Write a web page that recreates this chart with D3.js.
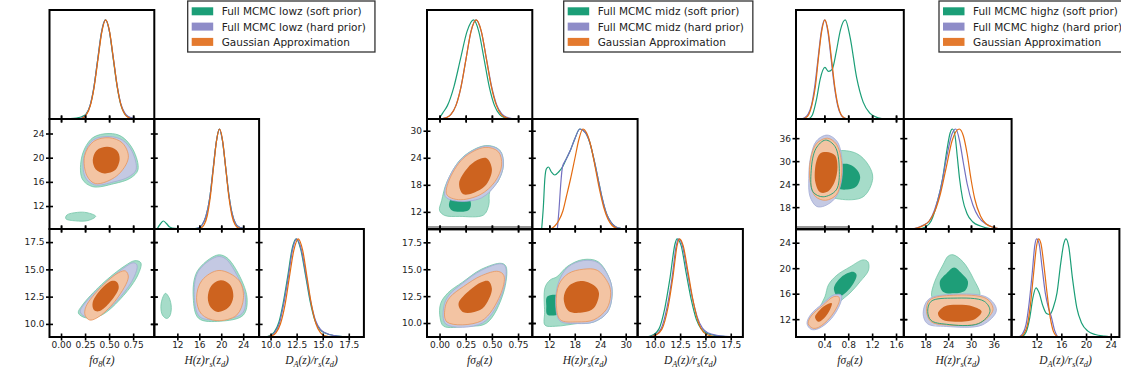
<!doctype html>
<html>
<head>
<meta charset="utf-8">
<title>Triangle plots lowz / midz / highz</title>
<script src="https://cdnjs.cloudflare.com/ajax/libs/d3/7.8.5/d3.min.js"></script>
<style>
  body { margin: 0; background: #fff; }
  svg { display: block; }
</style>
</head>
<body>
<div id="chart"></div>
<script>
// ---- data ----
const bins = ['lowz', 'midz', 'highz'];
const seriesLabels = ['Full MCMC {z} (soft prior)', 'Full MCMC {z} (hard prior)', 'Gaussian Approximation'];

// axis ticks per bin: f sigma8, H rs, DA/rs
const fTicks = [[0, 0.25, 0.5, 0.75], [0, 0.25, 0.5, 0.75], [0.4, 0.8, 1.2, 1.6]];
const hTicks = [[12, 16, 20, 24], [12, 18, 24, 30], [18, 24, 30, 36]];
const daTicks = [[10, 12.5, 15, 17.5], [10, 12.5, 15, 17.5], [12, 16, 20, 24]];
const fFormat = ['.2f', '.2f', '.1f'];
const hFormat = ['d', 'd', 'd'];
const daFormat = ['.1f', '.1f', 'd'];

// axis limits
const fRange = [[-0.12, 0.97], [-0.12, 0.886], [-0.074, 1.73]];
const hRangeX = [[7.8, 26.9], [8.0, 32.8], [12.3, 40.7]];
const hRangeY = [[8.2, 26.4], [8.2, 32.6], [12.3, 41.0]];
const daRangeX = [[8.9, 18.95], [8.3, 18.7], [7.95, 25.4]];
const daRangeY = [[8.8, 18.7], [8.7, 18.74], [9.2, 26.15]];

// 1D marginals: [soft, hard, gauss], points [x, p/pmax]
const lowzF1D = [
  [[-0.02,0],[0.08,0.003],[0.16,0.01],[0.22,0.025],[0.26,0.05],[0.30,0.13],[0.34,0.31],[0.38,0.59],[0.42,0.87],[0.46,1],[0.50,0.9],[0.54,0.63],[0.58,0.35],[0.62,0.15],[0.66,0.055],[0.70,0.02],[0.75,0.006],[0.82,0]],
  [[0.16,0],[0.22,0.012],[0.26,0.042],[0.30,0.13],[0.34,0.31],[0.38,0.59],[0.42,0.87],[0.462,1],[0.50,0.9],[0.54,0.64],[0.58,0.36],[0.62,0.16],[0.66,0.065],[0.70,0.025],[0.75,0.008],[0.82,0]],
  [[0.19,0],[0.23,0.013],[0.265,0.045],[0.305,0.135],[0.345,0.325],[0.385,0.607],[0.425,0.882],[0.465,1],[0.505,0.882],[0.545,0.607],[0.585,0.325],[0.625,0.135],[0.665,0.045],[0.705,0.013],[0.75,0]]
];
const lowzH1D = [
  [[8.3,0],[8.9,0.05],[9.45,0.08],[10.0,0.055],[10.6,0.02],[11.5,0.006],[13,0.003],[14.5,0.004],[15.8,0.01],[16.5,0.04],[17.2,0.125],[17.9,0.31],[18.5,0.59],[19.1,0.87],[19.65,1],[20.2,0.89],[20.8,0.62],[21.4,0.34],[22.0,0.15],[22.6,0.055],[23.3,0.018],[24.2,0.005],[25.2,0]],
  [[15.0,0],[15.8,0.01],[16.5,0.04],[17.2,0.125],[17.9,0.31],[18.5,0.59],[19.1,0.87],[19.65,1],[20.2,0.89],[20.8,0.62],[21.4,0.34],[22.0,0.15],[22.6,0.055],[23.3,0.018],[24.2,0.005],[25.2,0]],
  [[15.6,0],[16.34,0.011],[16.9,0.044],[17.46,0.135],[18.02,0.325],[18.58,0.607],[19.14,0.882],[19.7,1],[20.26,0.882],[20.82,0.607],[21.38,0.325],[21.94,0.135],[22.5,0.044],[23.06,0.011],[23.8,0]]
];
const lowzDA1D = [
  [[9.4,0],[9.9,0.013],[10.35,0.05],[10.8,0.15],[11.2,0.34],[11.65,0.62],[12.05,0.89],[12.45,1],[12.9,0.89],[13.35,0.63],[13.8,0.36],[14.25,0.17],[14.75,0.075],[15.35,0.035],[16.1,0.015],[17.0,0.004],[17.6,0]],
  [[9.5,0],[10.0,0.012],[10.4,0.045],[10.85,0.14],[11.25,0.33],[11.7,0.61],[12.1,0.885],[12.5,1],[12.95,0.89],[13.4,0.63],[13.85,0.36],[14.3,0.17],[14.8,0.075],[15.4,0.035],[16.1,0.015],[17.0,0.004],[17.6,0]],
  [[9.6,0],[10.1,0.011],[10.53,0.044],[10.95,0.135],[11.38,0.325],[11.8,0.607],[12.23,0.882],[12.65,1],[13.08,0.882],[13.5,0.607],[13.93,0.325],[14.35,0.135],[14.78,0.044],[15.2,0.011],[15.8,0]]
];
const midzF1D = [
  [[0.0,0.01],[0.03,0.06],[0.075,0.135],[0.137,0.325],[0.2,0.607],[0.262,0.882],[0.325,1],[0.375,0.882],[0.425,0.607],[0.475,0.325],[0.525,0.135],[0.575,0.044],[0.625,0.011],[0.68,0]],
  [[0.01,0],[0.06,0.011],[0.107,0.044],[0.156,0.135],[0.205,0.325],[0.253,0.607],[0.30,0.882],[0.348,1],[0.398,0.885],[0.447,0.615],[0.496,0.335],[0.545,0.145],[0.594,0.052],[0.645,0.016],[0.70,0.004],[0.75,0]],
  [[0.01,0],[0.059,0.011],[0.107,0.044],[0.156,0.135],[0.205,0.325],[0.253,0.607],[0.30,0.882],[0.35,1],[0.40,0.882],[0.447,0.607],[0.495,0.325],[0.544,0.135],[0.59,0.044],[0.64,0.011],[0.69,0]]
];
const midzH1D = [
  [[10.2,0],[10.6,0.22],[10.95,0.5],[11.3,0.6],[11.8,0.62],[12.5,0.57],[13.3,0.54],[14.2,0.57],[15.1,0.62],[16,0.7],[17,0.79],[18,0.9],[19.2,1],[20.4,0.97],[21.5,0.87],[22.5,0.7],[23.5,0.5],[24.5,0.3],[25.5,0.15],[26.5,0.07],[27.5,0.025],[28.5,0.008],[29.5,0]],
  [[13.9,0],[14.3,0.2],[14.7,0.45],[15.1,0.62],[16,0.7],[17,0.79],[18,0.9],[19.2,1],[20.4,0.97],[21.5,0.87],[22.5,0.7],[23.5,0.5],[24.5,0.3],[25.5,0.15],[26.5,0.07],[27.5,0.025],[28.5,0.008],[29.5,0]],
  [[12.3,0],[13.3,0.03],[14.3,0.09],[15.2,0.18],[16.0,0.32],[17.0,0.5],[18.0,0.7],[19.0,0.9],[19.9,1],[20.8,0.96],[21.8,0.83],[22.8,0.62],[23.8,0.4],[24.8,0.22],[25.8,0.1],[26.8,0.035],[27.8,0.008],[28.5,0]]
];
const midzDA1D = [
  [[9.2,0],[9.8,0.02],[10.4,0.08],[11.0,0.3],[11.5,0.6],[12.0,0.95],[12.2,1],[12.6,0.93],[13.1,0.65],[13.6,0.38],[14.1,0.18],[14.6,0.08],[15.2,0.035],[16,0.015],[17,0.005],[17.8,0]],
  [[9.4,0],[10.0,0.02],[10.6,0.08],[11.2,0.3],[11.7,0.6],[12.1,0.92],[12.35,1],[12.7,0.94],[13.2,0.67],[13.7,0.4],[14.2,0.2],[14.7,0.09],[15.3,0.04],[16.1,0.018],[17,0.006],[17.8,0]],
  [[9.5,0],[10.1,0.02],[10.7,0.08],[11.3,0.3],[11.8,0.62],[12.2,0.93],[12.43,1],[12.8,0.93],[13.3,0.65],[13.8,0.36],[14.3,0.15],[14.8,0.05],[15.4,0.015],[16.2,0]]
];
const highzF1D = [
  [[0.14,0],[0.2,0.04],[0.27,0.2],[0.33,0.4],[0.41,0.52],[0.47,0.48],[0.53,0.5],[0.6,0.68],[0.67,0.9],[0.75,1],[0.83,0.83],[0.94,0.42],[1.05,0.17],[1.16,0.06],[1.3,0.012],[1.45,0]],
  [[0.02,0],[0.07,0.012],[0.13,0.05],[0.185,0.14],[0.24,0.33],[0.295,0.61],[0.35,0.885],[0.405,1],[0.46,0.88],[0.515,0.6],[0.57,0.32],[0.625,0.13],[0.68,0.04],[0.735,0.01],[0.79,0]],
  [[0.03,0],[0.08,0.01],[0.14,0.045],[0.19,0.135],[0.25,0.325],[0.30,0.607],[0.355,0.882],[0.41,1],[0.465,0.882],[0.52,0.607],[0.575,0.325],[0.63,0.135],[0.68,0.045],[0.74,0.01],[0.79,0]]
];
const highzH1D = [
  [[16.5,0],[18,0.02],[19.5,0.08],[21,0.25],[22.5,0.5],[23.7,0.8],[24.5,0.96],[25.1,1],[25.8,0.93],[26.4,0.72],[27.0,0.5],[27.8,0.3],[29,0.15],[30.5,0.07],[32.5,0.03],[35,0.005],[36.5,0]],
  [[14.5,0],[16,0.015],[17.5,0.04],[19,0.08],[20.5,0.2],[22,0.4],[23.5,0.7],[25,0.95],[26,1],[27,0.88],[28,0.66],[29,0.45],[30.5,0.24],[32,0.12],[34,0.05],[36,0.015],[38,0]],
  [[14.5,0],[16,0.012],[17.5,0.035],[19,0.08],[20.5,0.18],[22,0.36],[23.5,0.62],[25,0.88],[26.9,1],[28,0.93],[29,0.75],[30,0.5],[31,0.3],[32.5,0.13],[34,0.05],[36,0.015],[38,0]]
];
const highzDA1D = [
  [[9.6,0],[10.3,0.05],[10.9,0.2],[11.4,0.4],[11.9,0.5],[12.4,0.45],[13.0,0.32],[13.6,0.24],[14.15,0.23],[14.7,0.3],[15.3,0.45],[15.9,0.75],[16.4,0.95],[16.75,1],[17.2,0.92],[17.8,0.6],[18.5,0.3],[19.3,0.14],[20.3,0.06],[21.5,0.025],[23,0.008],[24,0]],
  [[9.1,0],[9.7,0.03],[10.3,0.13],[10.8,0.35],[11.3,0.66],[11.7,0.93],[12.0,1],[12.4,0.95],[12.9,0.7],[13.4,0.45],[13.9,0.3],[14.4,0.2],[14.9,0.07],[15.4,0]],
  [[9.3,0],[9.9,0.03],[10.5,0.12],[11.0,0.33],[11.5,0.64],[12.0,0.93],[12.3,1],[12.7,0.95],[13.2,0.72],[13.7,0.44],[14.2,0.2],[14.7,0.06],[15.2,0.01],[15.6,0]]
];

// 2D contours: [series, level (0 = 95%, 1 = 68%), outline points, outline drawn on top]
const lowzFH = [
  [0, 0, [[0.80,18.0],[0.75,21.3],[0.63,23.5],[0.50,24.0],[0.33,23.3],[0.22,20.4],[0.22,16.5],[0.33,15.2],[0.55,15.7],[0.72,16.6]]],
  [0, 0, [[0.36,10.3],[0.27,10.9],[0.17,10.95],[0.06,10.5],[0.05,9.9],[0.15,9.55],[0.28,9.6]]],
  [0, 1, [[0.61,19.8],[0.58,21.3],[0.48,21.9],[0.37,21.3],[0.32,19.6],[0.35,18.0],[0.45,17.3],[0.57,17.8]]],
  [1, 0, [[0.78,18.0],[0.74,21.0],[0.64,22.9],[0.50,23.5],[0.33,22.9],[0.24,20.3],[0.25,16.8],[0.35,15.5],[0.55,16.0],[0.70,16.8]]],
  [1, 1, [[0.61,19.8],[0.58,21.2],[0.48,21.8],[0.37,21.2],[0.33,19.6],[0.36,18.1],[0.45,17.4],[0.56,17.9]]],
  [2, 0, [[0.70,20.0],[0.64,22.4],[0.50,23.3],[0.34,22.7],[0.245,20.3],[0.27,17.0],[0.36,15.7],[0.58,17.0]]],
  [2, 1, [[0.61,19.8],[0.58,21.2],[0.48,21.8],[0.37,21.2],[0.33,19.6],[0.36,18.1],[0.45,17.4],[0.56,17.9]]]
];
const lowzFDA = [
  [0, 0, [[0.83,15.6],[0.77,15.8],[0.66,15.3],[0.42,13.6],[0.22,11.7],[0.18,11.0],[0.26,10.55],[0.42,10.8],[0.65,12.6],[0.80,14.5]]],
  [0, 1, [[0.60,13.3],[0.58,13.85],[0.53,13.95],[0.44,13.4],[0.33,12.0],[0.34,11.3],[0.39,11.15],[0.50,11.9]]],
  [1, 0, [[0.79,15.4],[0.75,15.6],[0.65,15.1],[0.44,13.6],[0.24,11.8],[0.20,11.1],[0.27,10.6],[0.40,10.8],[0.62,12.5],[0.76,14.3]]],
  [1, 1, [[0.60,13.3],[0.58,13.85],[0.53,13.95],[0.44,13.4],[0.33,12.0],[0.34,11.3],[0.39,11.15],[0.50,11.9]]],
  [2, 0, [[0.70,14.3],[0.67,14.85],[0.60,14.7],[0.42,13.4],[0.26,11.6],[0.25,10.8],[0.30,10.35],[0.40,10.7],[0.58,12.3]]],
  [2, 1, [[0.60,13.3],[0.58,13.85],[0.53,13.95],[0.44,13.4],[0.33,12.0],[0.34,11.3],[0.39,11.15],[0.50,11.9]]]
];
const lowzHDA = [
  [0, 0, [[24.7,12.4],[22.8,14.9],[20.8,16.15],[19.2,16.3],[15.6,14.8],[14.9,12.4],[15.9,10.5],[19.8,10.25],[24.0,10.8]]],
  [0, 0, [[9.85,12.8],[10.5,12.4],[10.9,11.5],[10.6,10.7],[10.06,10.5],[9.3,10.8],[9.0,11.6],[9.4,12.5]]],
  [0, 1, [[22.2,12.5],[21.6,13.6],[19.9,14.0],[18.2,13.5],[17.55,12.4],[18.1,11.5],[19.4,11.1],[21.3,11.5]]],
  [1, 0, [[24.4,12.4],[22.5,14.8],[20.7,16.0],[19.2,16.15],[15.8,14.8],[15.1,12.4],[16.1,10.65],[19.8,10.4],[23.8,10.95]]],
  [1, 1, [[22.2,12.5],[21.6,13.6],[19.9,14.0],[18.2,13.5],[17.55,12.4],[18.1,11.5],[19.4,11.1],[21.3,11.5]]],
  [2, 0, [[24.05,12.4],[23.2,14.0],[19.6,14.9],[16.5,14.0],[15.5,12.4],[16.4,10.9],[19.2,10.3],[22.8,10.8]]],
  [2, 1, [[22.2,12.5],[21.6,13.6],[19.9,14.0],[18.2,13.5],[17.55,12.4],[18.1,11.5],[19.4,11.1],[21.3,11.5]]]
];
const midzFH = [
  [0, 0, [[0.61,22.4],[0.575,25.7],[0.44,26.7],[0.22,24.1],[0.07,18.6],[0.02,14.5],[0.0,12.3],[0.05,11.2],[0.19,11.0],[0.42,11.3],[0.47,13.5],[0.48,16.5],[0.56,18.8]]],
  [0, 1, [[0.09,13.3],[0.12,12.3],[0.19,12.0],[0.28,12.4],[0.30,13.8],[0.26,16.0],[0.18,16.5],[0.11,15.0]]],
  [1, 0, [[0.61,22.4],[0.575,25.6],[0.44,26.6],[0.22,24.0],[0.07,18.5],[0.055,15.4],[0.16,14.4],[0.40,15.1],[0.55,18.5]]],
  [1, 1, [[0.45,23.9],[0.50,21.5],[0.46,18.5],[0.387,16.9],[0.228,15.9],[0.187,18.4],[0.266,21.7],[0.36,23.5]]],
  [2, 0, [[0.593,22.4],[0.561,25.35],[0.434,26.3],[0.228,23.9],[0.086,18.7],[0.07,15.8],[0.181,14.7],[0.387,15.8],[0.529,18.7]]],
  [2, 1, [[0.45,23.9],[0.50,21.5],[0.46,18.5],[0.387,16.9],[0.228,15.9],[0.187,18.4],[0.266,21.7],[0.36,23.5]]]
];
const midzFDA = [
  [0, 0, [[0.59,15.55],[0.635,15.25],[0.61,12.8],[0.45,10.0],[0.25,9.7],[0.04,9.7],[0.005,10.5],[0.01,11.8],[0.08,12.8],[0.22,13.8],[0.40,15.0]]],
  [0, 1, [[0.44,13.8],[0.48,13.1],[0.44,12.0],[0.36,11.1],[0.2,10.8],[0.13,11.5],[0.26,13.0],[0.38,13.7]]],
  [1, 0, [[0.59,15.5],[0.63,15.2],[0.60,12.8],[0.41,10.0],[0.06,9.9],[0.04,11.5],[0.09,12.6],[0.22,13.7],[0.40,14.9]]],
  [1, 1, [[0.466,13.9],[0.50,13.2],[0.46,12.0],[0.387,11.2],[0.228,11.0],[0.181,11.8],[0.29,13.07],[0.40,13.8]]],
  [2, 0, [[0.56,14.8],[0.615,14.4],[0.58,12.6],[0.40,10.2],[0.07,10.1],[0.054,11.5],[0.10,12.4],[0.23,13.4],[0.40,14.4]]],
  [2, 1, [[0.466,13.9],[0.50,13.2],[0.46,12.0],[0.387,11.2],[0.228,11.0],[0.181,11.8],[0.29,13.07],[0.40,13.8]]]
];
const midzHDA = [
  [0, 0, [[26.8,12.6],[26.3,14.0],[23.5,15.7],[20,15.9],[16.4,15.3],[13.8,14.3],[12.2,14.0],[11.0,13.3],[10.9,11.0],[11.0,9.8],[13.5,9.7],[18.6,9.95],[22.5,10.1],[25.7,11.0]]],
  [0, 1, [[11.4,12.4],[12.5,12.6],[14.5,12.5],[15.5,11.8],[15,11.0],[13,10.7],[11.5,10.8],[11.3,11.6]]],
  [1, 0, [[13.5,11.8],[14.2,13.8],[16.4,15.2],[20,15.8],[23.5,15.6],[26.3,14.0],[26.8,12.6],[25.7,11.0],[22.5,10.1],[18.6,9.95],[14.5,10.2]]],
  [1, 1, [[15.4,12.3],[16.5,13.4],[19.4,13.9],[22.5,13.5],[23.7,12.8],[22.5,11.4],[20.1,11.0],[16.6,11.1]]],
  [2, 0, [[13.66,11.8],[14.3,13.6],[16.5,14.6],[20,15.0],[23.3,14.9],[26.0,13.6],[26.45,12.6],[25.5,11.3],[22.5,10.3],[18.6,10.1],[14.6,10.3]]],
  [2, 1, [[15.4,12.3],[16.5,13.4],[19.4,13.9],[22.5,13.5],[23.7,12.8],[22.5,11.4],[20.1,11.0],[16.6,11.1]]]
];
const highzFH = [
  [0, 0, [[0.61,32.6],[0.94,32.0],[1.14,28.95],[1.21,25.5],[1.05,20.7],[0.66,20.1],[0.45,21.5],[0.45,30.5]]],
  [0, 0, [[0.42,35.5],[0.58,33.8],[0.65,28],[0.6,22.5],[0.38,20.7],[0.21,22],[0.18,27.5],[0.26,33.3]], true],
  [0, 1, [[0.62,28.8],[0.78,29.3],[0.93,28.0],[1.0,25.9],[0.93,23.3],[0.78,22.6],[0.62,23.0],[0.56,25.9]]],
  [1, 0, [[0.45,36.8],[0.62,35.0],[0.70,29.5],[0.68,24.3],[0.58,20.3],[0.40,18.3],[0.27,18.2],[0.16,20.8],[0.14,25.5],[0.17,31],[0.27,35.3]]],
  [1, 1, [[0.44,32.4],[0.58,31.5],[0.62,28.5],[0.57,24.5],[0.45,22.0],[0.33,21.9],[0.25,24.5],[0.26,29.5],[0.33,32.0]]],
  [2, 0, [[0.45,36.0],[0.6,34.5],[0.69,29.5],[0.67,24.5],[0.6,21.2],[0.42,19.8],[0.25,20.8],[0.16,25.0],[0.17,30.5],[0.27,34.6]]],
  [2, 1, [[0.44,32.4],[0.58,31.5],[0.62,28.5],[0.57,24.5],[0.45,22.0],[0.33,21.9],[0.25,24.5],[0.26,29.5],[0.33,32.0]]]
];
const highzFDA = [
  [0, 0, [[0.41,15.5],[0.47,17.4],[0.61,18.9],[0.83,20.2],[1.05,21.3],[1.13,21.0],[1.14,19.7],[1.0,17.9],[0.83,16.1],[0.66,14.75],[0.5,13.0],[0.3,11.0],[0.22,10.8],[0.2,11.8],[0.3,13.5]]],
  [0, 1, [[0.885,19.45],[0.94,18.94],[0.83,16.85],[0.634,15.5],[0.56,16.85],[0.69,18.67]]],
  [1, 0, [[0.56,15.8],[0.68,15.8],[0.68,14.8],[0.52,12.1],[0.3,10.5],[0.18,10.4],[0.11,11.3],[0.17,12.7],[0.38,14.5]]],
  [1, 1, [[0.524,14.5],[0.5,13.6],[0.4,12.2],[0.3,11.6],[0.244,12.3],[0.3,13.2],[0.42,14.2]]],
  [2, 0, [[0.55,15.5],[0.64,15.5],[0.65,14.8],[0.5,12.3],[0.3,10.7],[0.2,10.6],[0.13,11.3],[0.18,12.5],[0.38,14.2]]],
  [2, 1, [[0.524,14.5],[0.5,13.6],[0.4,12.2],[0.3,11.6],[0.244,12.3],[0.3,13.2],[0.42,14.2]]]
];
const highzHDA = [
  [0, 0, [[25.3,22.1],[27.9,21.0],[30.6,18.4],[32.3,15.8],[30,15.3],[25,15.2],[20,15.3],[19.6,15.8],[20.45,17.9],[22.6,20.5],[24,21.9]]],
  [0, 0, [[25.5,15.3],[33.5,14.8],[35,13.2],[32,11.3],[23.5,11.2],[19.5,11.8],[18.6,13.2],[19.5,14.8]], true],
  [0, 1, [[25.55,20.1],[27.5,19.2],[29.2,17.9],[28.5,16.5],[25.55,16.05],[22.6,16.3],[21.8,17.9],[23.6,19.2]]],
  [1, 0, [[25.3,15.9],[34.3,15.4],[36.7,13.4],[33,11.1],[23.5,10.85],[18.5,11.3],[17.4,12.9],[18.8,15.1]]],
  [1, 1, [[21.3,12.9],[23,14.0],[26.2,14.25],[30.5,14.0],[32.8,13.2],[31,12.0],[26.4,11.6],[22.5,11.9]]],
  [2, 0, [[25.3,15.75],[34.1,15.2],[35.8,13.45],[32.3,11.4],[23.5,11.1],[19.5,11.6],[18.3,13.2],[19.1,15.0]]],
  [2, 1, [[21.3,12.9],[23,14.0],[26.2,14.25],[30.5,14.0],[32.8,13.2],[31,12.0],[26.4,11.6],[22.5,11.9]]]
];

// axis label pieces (text, normal/sub)
const fLabel = [['fσ', ''], ['8', 'sub'], ['(z)', '']];
const hLabel = [['H(z)r', ''], ['s', 'sub'], ['(z', ''], ['d', 'sub'], [')', '']];
const daLabel = [['D', ''], ['A', 'sub'], ['(z)/r', ''], ['s', 'sub'], ['(z', ''], ['d', 'sub'], [')', '']];

// ---- layout / style ----
const W = 1121, H = 374;
const panelX = [49.5, 427, 796];
const cellW = [104.8, 105.3, 107.8];
const rowEdges = [10, 119, 229, 337];
const legendX = [187.7, 563.7, 939];

const lineColor = ['#1b9e77', '#7470c0', '#e36c12'];
const fillOuter = ['#a6dcc9', '#c4c9e3', '#f3c4a3'];
const fillInner = ['#1e9e78', '#9aa0d2', '#cd631f'];
const edgeOuter = ['#72c5a7', '#a2abd6', '#e8955c'];
const legendColor = ['#1b9e77', '#8e8cc8', '#e47a2e'];

const f1D = [lowzF1D, midzF1D, highzF1D];
const h1D = [lowzH1D, midzH1D, highzH1D];
const da1D = [lowzDA1D, midzDA1D, highzDA1D];
const fh2D = [lowzFH, midzFH, highzFH];
const fda2D = [lowzFDA, midzFDA, highzFDA];
const hda2D = [lowzHDA, midzHDA, highzHDA];

const svg = d3.select('#chart').append('svg').attr('width', W).attr('height', H);

function cellBox(b, r, c) {
  return {x: panelX[b] + c * cellW[b], y: rowEdges[r], width: cellW[b], height: rowEdges[r + 1] - rowEdges[r]};
}

function mathLabel(sel, parts) {
  let shifted = false;
  parts.forEach(([t, kind]) => {
    const ts = sel.append('tspan').text(t);
    if (kind === 'sub') {
      ts.attr('font-size', '0.72em');
      if (!shifted) { ts.attr('dy', 2.6); shifted = true; }
    } else if (shifted) {
      ts.attr('dy', -2.6); shifted = false;
    }
  });
}

// tick marks straddling a cell edge (in and out)
const tickLayer = svg.append('g');
function hTicksAt(scale, vals, y) {
  const a = tickLayer.append('g').attr('transform', `translate(0,${y - 3.5})`)
    .call(d3.axisBottom(scale).tickValues(vals).tickSize(7).tickFormat(''));
  a.select('.domain').remove();
  a.selectAll('text').remove();
  a.selectAll('line').attr('stroke', '#000').attr('stroke-width', 1.6);
}
function vTicksAt(scale, vals, x) {
  const a = tickLayer.append('g').attr('transform', `translate(${x + 3.5},0)`)
    .call(d3.axisLeft(scale).tickValues(vals).tickSize(7).tickFormat(''));
  a.select('.domain').remove();
  a.selectAll('text').remove();
  a.selectAll('line').attr('stroke', '#000').attr('stroke-width', 1.6);
}

bins.forEach((bin, b) => {
  const g = svg.insert('g', () => tickLayer.node());
  const xDom = [fRange[b], hRangeX[b], daRangeX[b]];
  const yDom = [null, hRangeY[b], daRangeY[b]];
  const ticks = [fTicks[b], hTicks[b], daTicks[b]];
  const fmts = [fFormat[b], hFormat[b], daFormat[b]];
  const oneD = [f1D[b], h1D[b], da1D[b]];
  const twoD = {'1,0': fh2D[b], '2,0': fda2D[b], '2,1': hda2D[b]};
  const labels = [fLabel, hLabel, daLabel];

  for (let r = 0; r < 3; r++) {
    for (let c = 0; c <= r; c++) {
      const box = cellBox(b, r, c);
      const x = d3.scaleLinear().domain(xDom[c]).range([box.x, box.x + box.width]);
      const clipId = `clip-${b}-${r}-${c}`;
      g.append('clipPath').attr('id', clipId).append('rect')
        .attr('x', box.x).attr('y', box.y).attr('width', box.width).attr('height', box.height);
      const inner = g.append('g').attr('clip-path', `url(#${clipId})`);

      if (r === c) {
        const y = d3.scaleLinear().domain([0, 1.1]).range([box.y + box.height, box.y]);
        const line = d3.line().x(d => x(d[0])).y(d => y(d[1])).curve(d3.curveMonotoneX);
        oneD[c].forEach((pts, s) => {
          inner.append('path').attr('d', line(pts))
            .attr('fill', 'none').attr('stroke', lineColor[s]).attr('stroke-width', 1.2);
        });
      } else {
        const y = d3.scaleLinear().domain(yDom[r]).range([box.y + box.height, box.y]);
        const shape = d3.line().x(d => x(d[0])).y(d => y(d[1])).curve(d3.curveCatmullRomClosed.alpha(0.5));
        const conts = twoD[`${r},${c}`];
        conts.forEach(([s, lev, pts]) => {
          inner.append('path').attr('d', shape(pts))
            .attr('fill', lev ? fillInner[s] : fillOuter[s])
            .attr('stroke', lev ? 'none' : edgeOuter[s]).attr('stroke-width', 0.8);
        });
        conts.filter(d => d[3]).forEach(([s, lev, pts]) => {
          inner.append('path').attr('d', shape(pts))
            .attr('fill', 'none').attr('stroke', lineColor[s]).attr('stroke-width', 0.9);
        });
        vTicksAt(y, ticks[r], box.x);
        vTicksAt(y, ticks[r], box.x + box.width);
        hTicksAt(x, ticks[c], box.y);

        if (c === 0) {
          const ax = g.append('g').attr('transform', `translate(${box.x},0)`)
            .call(d3.axisLeft(y).tickValues(ticks[r]).tickFormat(d3.format(fmts[r])).tickSize(0).tickPadding(5))
            .call(a => a.select('.domain').remove())
            .attr('font-family', 'DejaVu Sans').attr('font-size', 9);
          ax.selectAll('text').attr('fill', '#222');
          const bb = ax.node().getBBox();
          const lx = bb.x - 10, ly = box.y + box.height / 2;
          const t = g.append('text')
            .attr('x', lx + 3.5).attr('y', ly)
            .attr('transform', `rotate(-90, ${lx + 3.5}, ${ly})`)
            .attr('text-anchor', 'middle')
            .attr('font-family', 'Liberation Serif').attr('font-style', 'italic')
            .attr('font-size', 11.5).attr('fill', '#222');
          mathLabel(t, labels[r]);
        }
      }
      hTicksAt(x, ticks[c], box.y + box.height);

      if (r === 2) {
        const ax = g.append('g').attr('transform', `translate(0,${box.y + box.height})`)
          .call(d3.axisBottom(x).tickValues(ticks[c]).tickFormat(d3.format(fmts[c])).tickSize(0).tickPadding(4.5))
          .call(a => a.select('.domain').remove())
          .attr('font-family', 'DejaVu Sans').attr('font-size', 9);
        ax.selectAll('text').attr('fill', '#222');
        const t = g.append('text')
          .attr('x', box.x + box.width / 2).attr('y', 364)
          .attr('text-anchor', 'middle')
          .attr('font-family', 'Liberation Serif').attr('font-style', 'italic')
          .attr('font-size', 11.5).attr('fill', '#222');
        mathLabel(t, labels[c]);
      }
    }
  }

  // grey band seen under the first column in midz / highz
  if (b > 0) {
    g.append('rect').attr('x', panelX[b]).attr('y', 226)
      .attr('width', b === 1 ? cellW[b] : cellW[b] / 2).attr('height', 5)
      .attr('fill', '#9a9a9a');
  }

  // cell frames
  for (let r = 0; r < 3; r++) {
    for (let c = 0; c <= r; c++) {
      const box = cellBox(b, r, c);
      g.append('rect').attr('x', box.x).attr('y', box.y)
        .attr('width', box.width).attr('height', box.height)
        .attr('fill', 'none').attr('stroke', '#000').attr('stroke-width', 2);
    }
  }

  // legend
  const lg = svg.append('g');
  const frame = lg.append('rect').attr('x', legendX[b]).attr('y', 1)
    .attr('height', 51).attr('fill', '#fff').attr('stroke', '#333').attr('stroke-width', 1.3);
  let maxW = 0;
  seriesLabels.forEach((lab, s) => {
    const cy = 11.3 + s * 15.3;
    lg.append('rect').attr('x', legendX[b] + 4).attr('y', cy - 4)
      .attr('width', 21.5).attr('height', 8).attr('fill', legendColor[s]);
    const t = lg.append('text').attr('x', legendX[b] + 34).attr('y', cy)
      .attr('dominant-baseline', 'central')
      .attr('font-family', 'DejaVu Sans').attr('font-size', 10.5).attr('fill', '#222')
      .text(lab.replace('{z}', bin));
    maxW = Math.max(maxW, t.node().getComputedTextLength());
  });
  frame.attr('width', maxW + 43);
});
</script>
</body>
</html>
